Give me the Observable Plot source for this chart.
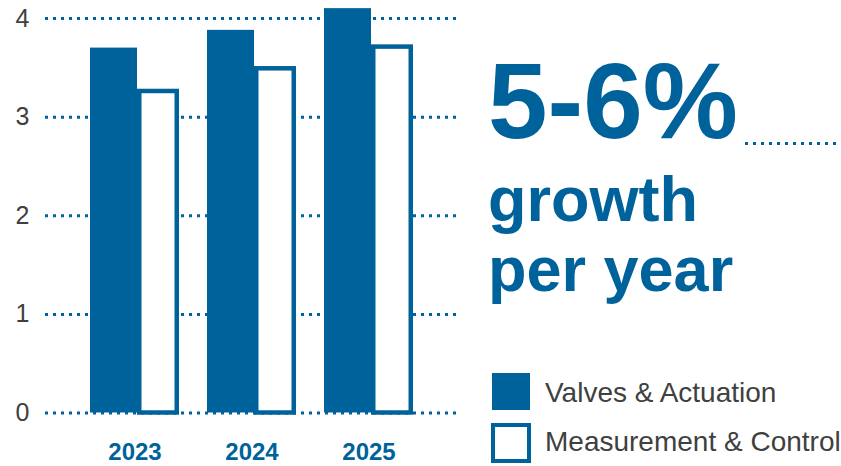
<!DOCTYPE html>
<html>
<head>
<meta charset="utf-8">
<script src="https://cdn.jsdelivr.net/npm/d3@7"></script>
<script src="https://cdn.jsdelivr.net/npm/@observablehq/plot@0.6"></script>
<style>
  html, body { margin: 0; padding: 0; background: #fff; }
  #wrap { position: relative; width: 841px; height: 466px; overflow: hidden; font-family: "Liberation Sans", Arial, sans-serif; }
  #chart { position: absolute; left: 0; top: 0; }
  .big { position: absolute; color: #00629b; font-weight: bold; white-space: nowrap; }
  .leg { position: absolute; color: #404040; font-size: 28px; line-height: 28px; white-space: nowrap; left: 545px; }
  .sw { position: absolute; box-sizing: border-box; }
  #dots { position: absolute; left: 745px; top: 142px; width: 96px; height: 3px;
          background: repeating-linear-gradient(to right, #00629b 0 3px, transparent 3px 8px); }
  g[aria-label="y-axis tick label"] text { fill: #404040; }
  g[aria-label="x-axis tick label"] text { fill: #00629b; font-weight: bold; }
</style>
</head>
<body>
<div id="wrap">
  <div id="chart"></div>
  <div class="big" style="left:488px; top:48px; font-size:107px; line-height:107px;">5-6%</div>
  <div id="dots"></div>
  <div class="big" style="left:488px; top:168px; font-size:63px; line-height:63px;">growth</div>
  <div class="big" style="left:488px; top:238px; font-size:63px; line-height:63px;">per year</div>
  <div class="sw" style="left:492px; top:373px; width:38px; height:37px; background:#00629b;"></div>
  <div class="leg" style="top:379px;">Valves &amp; Actuation</div>
  <div class="sw" style="left:491px; top:423px; width:40px; height:40px; border:4.5px solid #00629b; background:#fff;"></div>
  <div class="leg" style="top:428px;">Measurement &amp; Control</div>
</div>
<script>
const years = ["2023", "2024", "2025"];
const valves = [3.70, 3.88, 4.10];
const measurement = [3.26, 3.49, 3.71];
const yTicks = [0, 1, 2, 3, 4];
const blue = "#00629b";

const data = years.map((year, i) => ({ year, valves: valves[i], measurement: measurement[i] }));

const chart = Plot.plot({
  width: 841,
  height: 466,
  marginLeft: 45,
  marginRight: 383,
  marginTop: 18,
  marginBottom: 53.5,
  style: { fontFamily: "'Liberation Sans', Arial, sans-serif", background: "transparent" },
  x: { domain: years, paddingInner: 0.241, paddingOuter: 0.382, axis: null, label: null },
  y: { domain: [0, 4], axis: null, label: null },
  marks: [
    Plot.gridY(yTicks, { stroke: blue, strokeWidth: 3, strokeOpacity: 1, strokeDasharray: "3,5" }),
    Plot.barY(data, { x: "year", y: "measurement", fill: "white", stroke: blue, strokeWidth: 4.5, insetLeft: 49.25, insetRight: 2.25 }),
    Plot.barY(data, { x: "year", y: "valves", fill: blue, insetRight: 42 }),
    Plot.axisY(yTicks, { tickSize: 0, tickPadding: 16, fontSize: 25, color: "#404040", tickFormat: d3.format("d"), label: null }),
    Plot.axisX({ tickSize: 0, tickPadding: 30, fontSize: 24, fontWeight: "bold", color: blue, label: null })
  ]
});
document.getElementById("chart").appendChild(chart);
</script>
</body>
</html>
